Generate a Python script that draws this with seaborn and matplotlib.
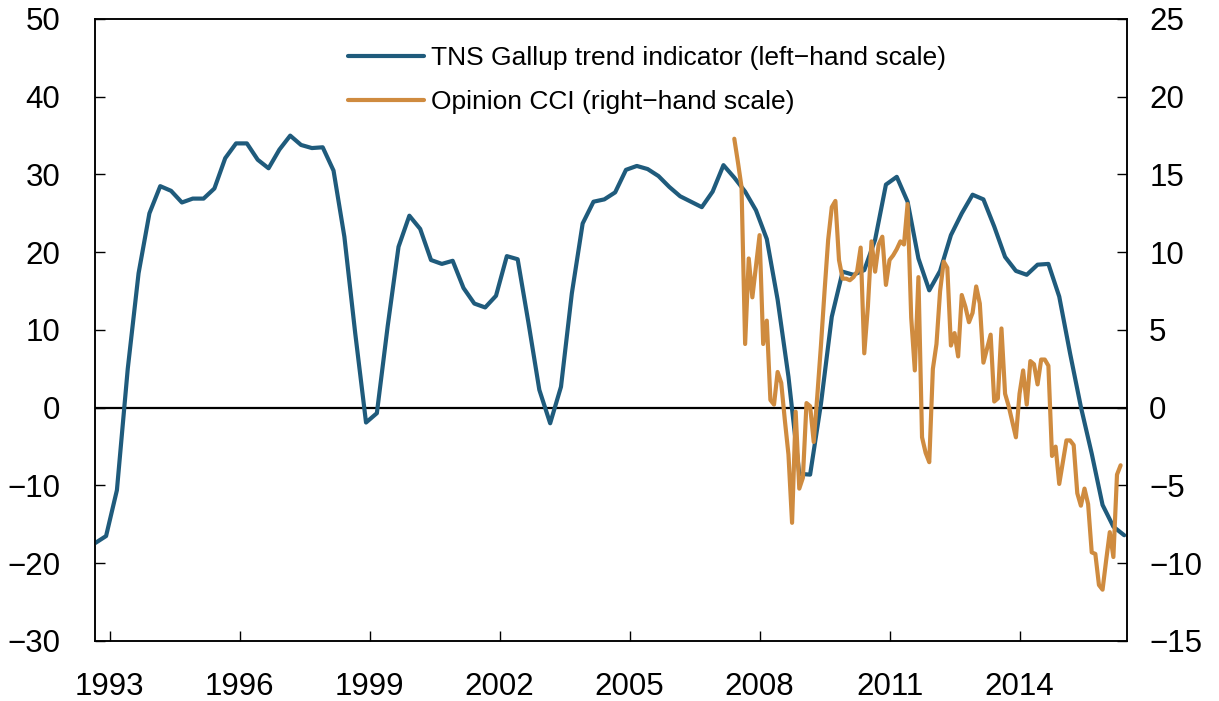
import numpy as np
import pandas as pd
import matplotlib
matplotlib.use("Agg")
import matplotlib.pyplot as plt
import seaborn as sns

# TNS Gallup trend indicator, quarterly, left-hand scale
gallup_start = 1992 + 8 / 12
gallup = [-17.4, -16.5, -10.6, 5.0, 17.3, 25.0, 28.5, 27.9, 26.4, 26.9, 26.9, 28.2,
          32.1, 34.0, 34.0, 31.9, 30.8, 33.2, 35.0, 33.8, 33.4, 33.5, 30.5, 22.0,
          9.6, -1.9, -0.7, 10.5, 20.7, 24.7, 23.0, 19.0, 18.5, 18.9, 15.4, 13.4,
          12.9, 14.4, 19.5, 19.1, 10.9, 2.3, -2.0, 2.7, 14.7, 23.7, 26.5, 26.8,
          27.7, 30.6, 31.1, 30.7, 29.8, 28.4, 27.2, 26.5, 25.8, 27.8, 31.2, 29.6,
          27.8, 25.4, 21.7, 13.9, 4.0, -8.5, -8.6, 0.5, 11.7, 17.5, 17.1, 17.7,
          21.6, 28.7, 29.7, 26.5, 19.2, 15.1, 17.6, 22.2, 25.0, 27.4, 26.8, 23.3,
          19.4, 17.6, 17.1, 18.4, 18.5, 14.3, 7.0, 0.1, -5.9, -12.5, -15.3, -16.4]

# Opinion CCI, monthly, right-hand scale
cci_start = 2007 + 5 / 12
cci = [17.3, 15.8, 14.2, 4.1, 9.6, 7.1, 9.1, 11.1, 4.1, 5.6, 0.5, 0.2,
       2.3, 1.6, -0.8, -3.0, -7.4, -0.25, -5.2, -4.5, 0.3, 0.1, -2.2, 0.8,
       4.0, 7.5, 10.8, 12.9, 13.3, 9.5, 8.3, 8.3, 8.2, 8.4, 8.75, 10.3,
       3.5, 6.5, 10.7, 8.75, 10.5, 11.0, 7.9, 9.5, 9.8, 10.2, 10.7, 10.5,
       13.1, 5.8, 2.4, 8.4, -1.9, -2.9, -3.5, 2.5, 4.1, 7.5, 9.4, 9.0,
       4.0, 4.8, 3.3, 7.25, 6.5, 5.5, 6.1, 7.8, 6.7, 2.9, 3.8, 4.7,
       0.4, 0.6, 5.1, 0.9, 0.1, -0.9, -1.9, 0.9, 2.4, 0.2, 3.0, 2.8,
       1.5, 3.1, 3.1, 2.7, -3.1, -2.5, -4.9, -3.5, -2.1, -2.1, -2.4, -5.5,
       -6.3, -5.2, -6.2, -9.3, -9.4, -11.4, -11.7, -9.8, -8.0, -9.6, -4.3, -3.7]

year_ticks = [1993, 1996, 1999, 2002, 2005, 2008, 2011, 2014]
left_ticks = [-30, -20, -10, 0, 10, 20, 30, 40, 50]
right_ticks = [-15, -10, -5, 0, 5, 10, 15, 20, 25]

gallup_label = "TNS Gallup trend indicator (left\u2212hand scale)"
cci_label = "Opinion CCI (right\u2212hand scale)"

BLUE = "#1F5B7C"
ORANGE = "#CF8B3F"

df_g = pd.DataFrame({"year": gallup_start + 0.25 * np.arange(len(gallup)), "value": gallup})
df_c = pd.DataFrame({"year": cci_start + np.arange(len(cci)) / 12, "value": cci})

sns.set_style("ticks")
plt.rcParams["font.family"] = ["Liberation Sans", "DejaVu Sans"]
plt.rcParams["text.color"] = "black"

fig = plt.figure(figsize=(12.19, 7.01), dpi=100)
ax = fig.add_axes([0.0779, 0.0856, 0.8466, 0.8873])
ax2 = ax.twinx()

ax.axhline(0, color="black", lw=1.6, zorder=1)
sns.lineplot(data=df_g, x="year", y="value", ax=ax, color=BLUE, lw=3.0, zorder=3)
sns.lineplot(data=df_c, x="year", y="value", ax=ax2, color=ORANGE, lw=3.0, zorder=3)

ax.set_xlim(1992.66, 2016.48)
ax.set_ylim(-30, 50)
ax2.set_ylim(-15, 25)
ax.set_xticks(year_ticks)
ax.set_yticks(left_ticks)
ax2.set_yticks(right_ticks)
ax.set_xlabel("")
ax.set_ylabel("")
ax2.set_ylabel("")

for a in (ax, ax2):
    for s in a.spines.values():
        s.set_visible(True)
        s.set_color("black")
        s.set_linewidth(1.1)

ax.tick_params(axis="x", direction="in", length=7, width=1.0, labelsize=22.5, pad=22,
               top=False, color="black", labelcolor="black")
ax.tick_params(axis="y", direction="in", length=7, width=1.0, labelsize=22.5, pad=25,
               color="black", labelcolor="black")
ax2.tick_params(axis="y", direction="in", length=7, width=1.0, labelsize=22.5, pad=16,
                color="black", labelcolor="black")

handles = [plt.Line2D([], [], color=BLUE, lw=3.0), plt.Line2D([], [], color=ORANGE, lw=3.0)]
ax.legend(handles, [gallup_label, cci_label], loc="upper left",
          bbox_to_anchor=(0.245, 0.957), frameon=False, fontsize=19,
          handlelength=2.9, handletextpad=0.25, labelspacing=0.77,
          borderpad=0, borderaxespad=0)

fig.savefig("out.png", dpi=100)
